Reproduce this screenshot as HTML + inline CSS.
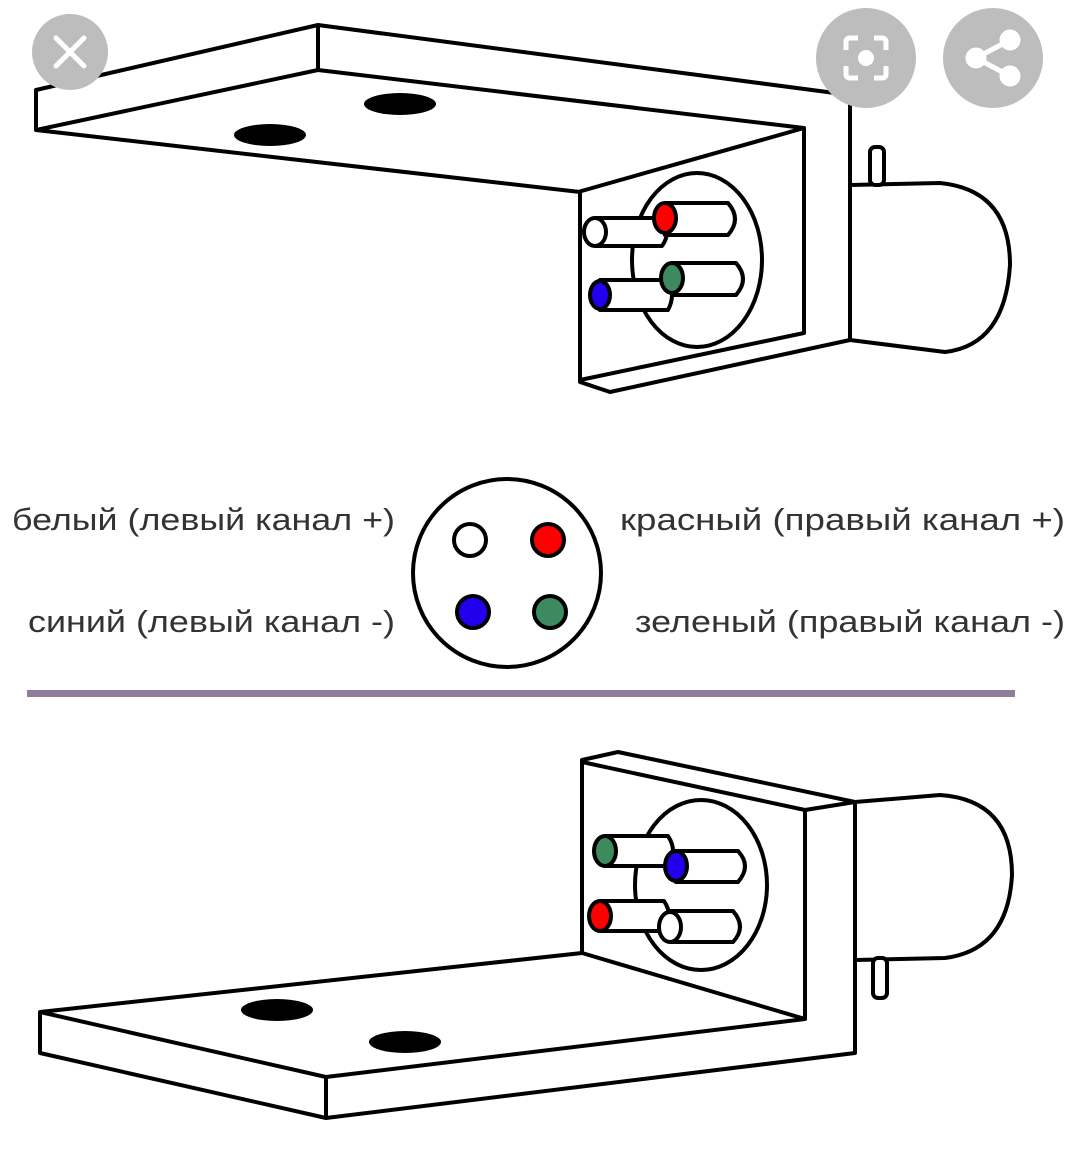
<!DOCTYPE html>
<html><head><meta charset="utf-8"><style>
html,body{margin:0;padding:0;background:#fff;}
svg{display:block}
text{font-family:"Liberation Sans","DejaVu Sans",sans-serif;font-size:31px;fill:#333}
</style></head><body>
<svg width="1080" height="1176" viewBox="0 0 1080 1176" xmlns="http://www.w3.org/2000/svg">
<g fill="#fff" stroke="#000" stroke-width="4" stroke-linejoin="round">
<!-- TOP bracket -->
<path d="M850,185 L940,183 Q1010,190 1010,265 Q1005,345 945,352 L850,340 Z"/>
<rect x="870" y="147" width="14" height="38" rx="5"/>
<path d="M318,25 L850,95 L850,340 L610,392 L580,382 L580,192 L36,130 L36,90 Z"/>
<path d="M36,130 L318,70 L804,128 L578,192 M318,25 L318,70 M804,128 L804,333 L580,380" fill="none"/>
<ellipse cx="697" cy="260" rx="65" ry="87"/>
<path d="M595,218 L662,218 Q672,232 662,246 L595,246 Z"/>
<ellipse cx="595" cy="232" rx="11" ry="14"/>
<path d="M665,203 L728,203 Q742,219 728,235 L665,235 Z"/>
<ellipse cx="665" cy="218" rx="11" ry="15" fill="#f00"/>
<path d="M600,280 L668,280 Q676,295 668,310 L600,310 Z"/>
<path d="M672,263 L736,263 Q750,279 736,295 L672,295 Z"/>
<ellipse cx="672" cy="278" rx="11" ry="15" fill="#3d8a5e"/>
<ellipse cx="600" cy="295" rx="10" ry="14" fill="#2200ee"/>
</g>
<ellipse cx="270" cy="135" rx="36" ry="11" fill="#000"/>
<ellipse cx="400" cy="104" rx="36" ry="11" fill="#000"/>

<!-- Middle legend -->
<g stroke="#000" stroke-width="4">
<circle cx="507" cy="573" r="94" fill="#fff"/>
<circle cx="470" cy="540" r="16" fill="#fff"/>
<circle cx="548" cy="540" r="16" fill="#f00"/>
<circle cx="473" cy="612" r="16" fill="#2200ee"/>
<circle cx="550" cy="612" r="16" fill="#3d8a5e"/>
</g>
<text x="12" y="530" textLength="383" lengthAdjust="spacingAndGlyphs">белый (левый канал +)</text>
<text x="28" y="632" textLength="367" lengthAdjust="spacingAndGlyphs">синий (левый канал -)</text>
<text x="620" y="530" textLength="445" lengthAdjust="spacingAndGlyphs">красный (правый канал +)</text>
<text x="635" y="632" textLength="430" lengthAdjust="spacingAndGlyphs">зеленый (правый канал -)</text>
<rect x="27" y="690" width="988" height="7" fill="#8e7e99"/>

<!-- BOTTOM bracket -->
<g fill="#fff" stroke="#000" stroke-width="4" stroke-linejoin="round">
<path d="M855,802 L940,795 Q1012,800 1012,875 Q1008,950 945,958 L855,960 Z"/>
<rect x="873" y="958" width="14" height="40" rx="5"/>
<path d="M582,760 L618,752 L855,802 L855,1053 L326,1118 L40,1053 L40,1012 L582,953 Z"/>
<path d="M582,762 L805,810 L855,802 M805,810 L805,1019 L326,1077 L40,1012 M326,1077 L326,1118" fill="none"/>
<path d="M582,953 L805,1019" fill="none"/>
<ellipse cx="701" cy="885" rx="66" ry="85"/>
<path d="M605,836 L668,836 Q678,851 668,866 L605,866 Z"/>
<ellipse cx="605" cy="851" rx="11" ry="15" fill="#3d8a5e"/>
<path d="M676,851 L738,851 Q752,866 738,882 L676,882 Z"/>
<ellipse cx="676" cy="866" rx="11" ry="15" fill="#2200ee"/>
<path d="M600,901 L664,901 Q674,916 664,931 L600,931 Z"/>
<ellipse cx="600" cy="916" rx="11" ry="15" fill="#f00"/>
<path d="M670,911 L733,911 Q747,927 733,942 L670,942 Z"/>
<ellipse cx="670" cy="927" rx="11" ry="15"/>
</g>
<ellipse cx="277" cy="1010" rx="36" ry="11" fill="#000"/>
<ellipse cx="405" cy="1042" rx="36" ry="11" fill="#000"/>

<!-- UI buttons -->
<circle cx="70" cy="52" r="38" fill="#bdbdbd"/>
<path d="M56,38 L84,66 M84,38 L56,66" stroke="#fff" stroke-width="5" stroke-linecap="round"/>
<circle cx="866" cy="58" r="50" fill="#bdbdbd"/>
<path d="M846,50 V42 Q846,38 850,38 H858 M874,38 H882 Q886,38 886,42 V50 M886,66 V74 Q886,78 882,78 H874 M858,78 H850 Q846,78 846,74 V66" fill="none" stroke="#fff" stroke-width="5"/>
<circle cx="866" cy="58" r="8" fill="#fff"/>
<circle cx="993" cy="58" r="50" fill="#bdbdbd"/>
<g fill="#fff" stroke="#fff" stroke-width="5">
<circle cx="1010" cy="40" r="8"/><circle cx="976" cy="58" r="8"/><circle cx="1010" cy="76" r="8"/>
<path d="M1010,40 L976,58 L1010,76" fill="none"/>
</g>
</svg>
</body></html>
